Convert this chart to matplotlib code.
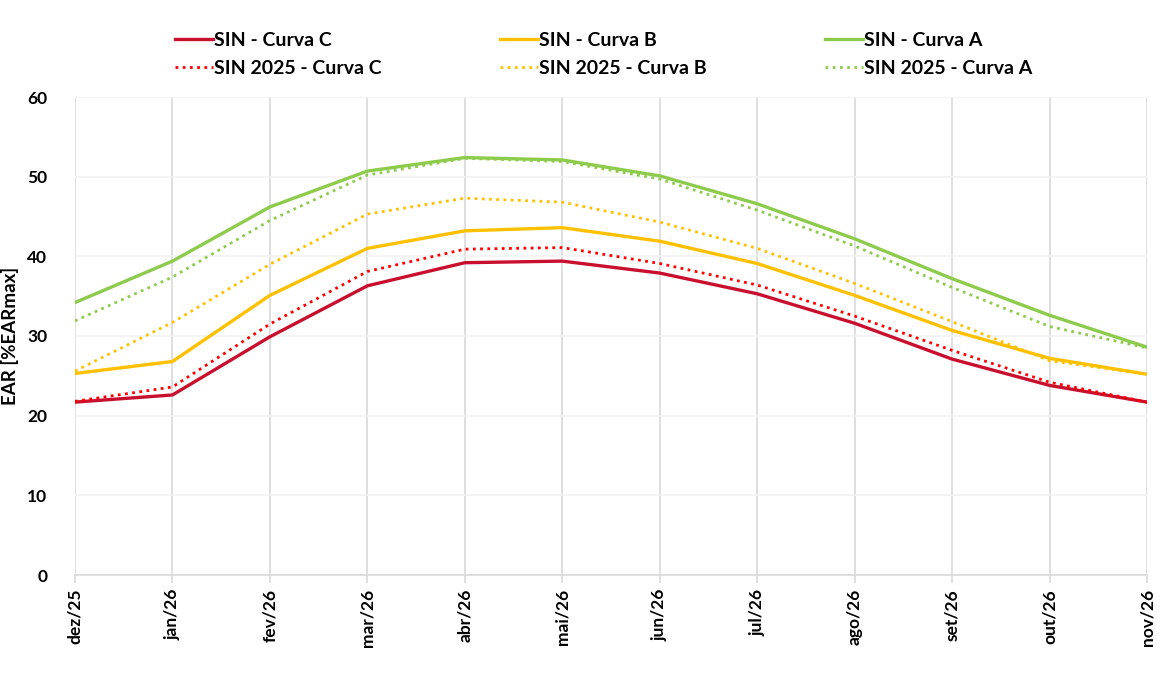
import matplotlib.pyplot as plt

meses = ["dez/25", "jan/26", "fev/26", "mar/26", "abr/26", "mai/26",
         "jun/26", "jul/26", "ago/26", "set/26", "out/26", "nov/26"]

curva_c = [21.7, 22.6, 29.9, 36.3, 39.2, 39.4, 37.9, 35.3, 31.6, 27.1, 23.8, 21.7]
curva_b = [25.3, 26.8, 35.1, 41.0, 43.2, 43.6, 41.9, 39.1, 35.1, 30.7, 27.2, 25.2]
curva_a = [34.2, 39.4, 46.2, 50.7, 52.4, 52.1, 50.1, 46.6, 42.2, 37.2, 32.6, 28.6]

curva_c_2025 = [21.8, 23.6, 31.5, 38.1, 40.9, 41.1, 39.1, 36.4, 32.5, 28.2, 24.2, 21.7]
curva_b_2025 = [25.6, 31.7, 39.0, 45.3, 47.3, 46.8, 44.3, 41.0, 36.6, 31.8, 26.9, 25.2]
curva_a_2025 = [31.9, 37.4, 44.5, 50.2, 52.3, 51.9, 49.7, 45.8, 41.3, 36.1, 31.2, 28.5]

plt.rcParams['font.family'] = ['Lato', 'DejaVu Sans']
plt.rcParams['font.weight'] = 'bold'

fig = plt.figure(figsize=(11.74, 6.82), dpi=100)
ax = fig.add_axes([75 / 1174, 1 - 575 / 682, (1147 - 75) / 1174, (575 - 97) / 682])

x = range(len(meses))
ax.plot(x, curva_c, color='#C8102E', lw=2.4, label='SIN - Curva C')
ax.plot(x, curva_c_2025, color='#FF0000', lw=2.0, ls=(0, (1, 1.6)), label='SIN 2025 - Curva C')
ax.plot(x, curva_b, color='#FFC000', lw=2.4, label='SIN - Curva B')
ax.plot(x, curva_b_2025, color='#FFC000', lw=2.0, ls=(0, (1, 1.6)), label='SIN 2025 - Curva B')
ax.plot(x, curva_a, color='#8DCB4C', lw=2.4, label='SIN - Curva A')
ax.plot(x, curva_a_2025, color='#8DCB4C', lw=2.0, ls=(0, (1, 1.6)), label='SIN 2025 - Curva A')

ax.set_xlim(0, len(meses) - 1)
ax.set_ylim(0, 60)
ax.set_yticks(range(0, 61, 10))
ax.set_xticks(list(x))
ax.set_xticklabels(meses, rotation=90, fontsize=12.5, fontweight='bold')
for lab in ax.get_yticklabels():
    lab.set_fontsize(12.5)
    lab.set_fontweight('bold')

ax.grid(axis='x', color='#D9D9D9', lw=1.2)
ax.grid(axis='y', color='#F2F2F2', lw=1.2)
ax.set_axisbelow(True)
for s in ['top', 'right', 'left']:
    ax.spines[s].set_visible(False)
ax.spines['bottom'].set_color('#D9D9D9')
ax.spines['bottom'].set_linewidth(1.2)
ax.tick_params(axis='x', length=6, color='#D9D9D9', width=1.2, pad=4)
ax.tick_params(axis='y', length=0, pad=20)

ax.set_ylabel('EAR [%EARmax]', fontsize=13.5, fontweight='bold', labelpad=6)

fig.legend(loc='upper left', bbox_to_anchor=(175 / 1174, 1 - 32 / 682), ncol=3,
           frameon=False, fontsize=14, handlelength=1.95, handletextpad=0.05,
           columnspacing=6.1, labelspacing=0.58, borderpad=0, borderaxespad=0)

fig.savefig('out.png', dpi=100)
